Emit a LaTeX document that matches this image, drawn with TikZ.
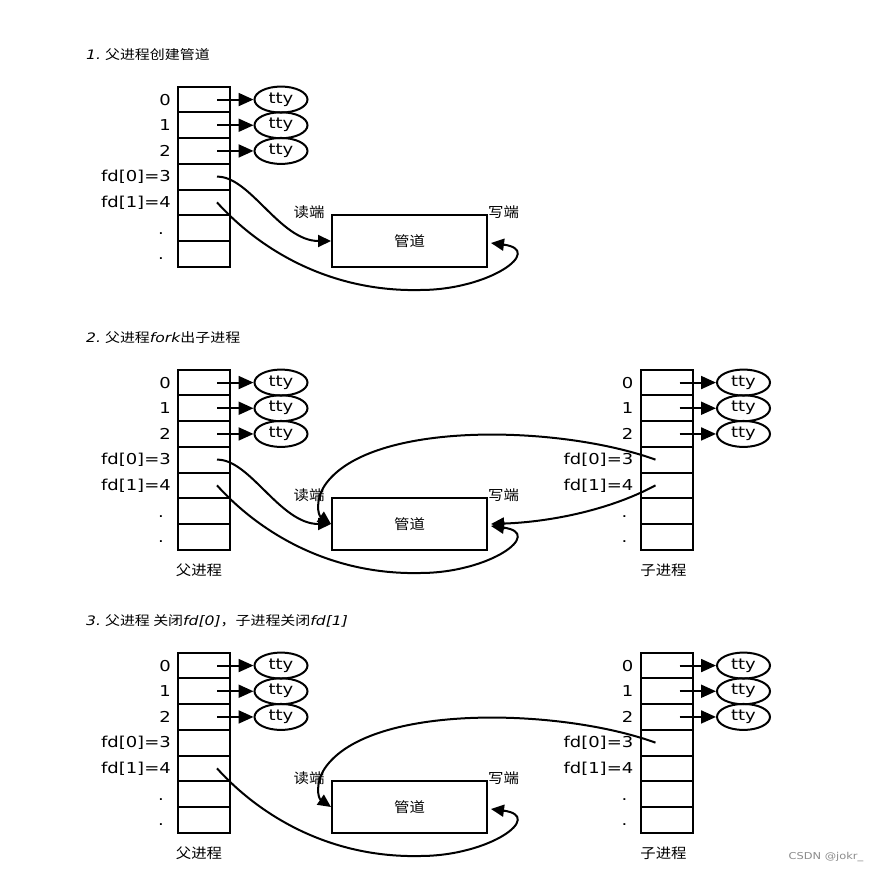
\documentclass[tikz,border=0pt]{standalone}
\usepackage{fontspec}
\setmainfont{DejaVu Sans}[FakeStretch=1.2]
\newfontfamily\cjk{Noto Sans CJK SC}[FakeStretch=1.1]
\newfontfamily\cjkt{Noto Sans CJK SC}[FakeStretch=1.15]
\usetikzlibrary{shapes.geometric,arrows.meta}
\tikzset{
  fdrow/.style={draw, line width=2pt, minimum width=52pt, minimum height=25.7pt, inner sep=0pt},
  fdlab/.style={font=\fontsize{15}{18}\selectfont, inner sep=0pt, anchor=east},
  ttyell/.style={ellipse, draw, line width=2pt, minimum width=53pt, minimum height=26pt, inner sep=0pt, font=\fontsize{15}{18}\selectfont},
  ptr/.style={line width=2pt, -{Triangle[length=15pt,width=13pt]}},
  conn/.style={line width=2pt, -{Triangle[length=13pt,width=12pt]}},
  pipebox/.style={draw, line width=2pt, minimum width=155pt, minimum height=51.7pt, inner sep=0pt, font=\cjk\fontsize{14}{16}\selectfont},
  endlab/.style={font=\cjk\fontsize{14}{16}\selectfont, inner sep=0pt},
  ttl/.style={font=\fontsize{13}{16}\selectfont, inner sep=0pt, anchor=west},
  wm/.style={font=\fontsize{9.5}{11}\selectfont, text=black!45, inner sep=0pt}
}
\newcommand\fdtab[3]{% #1 prefix, #2 x centre of table, #3 dot offset
  \foreach \i in {0,...,6} {\node[fdrow] (#1r\i) at (#2, 99.55+25.7*\i) {};}
  \node[fdlab] (#1l0) at ([xshift=-6pt]#1r0.west) {0};
  \node[fdlab] (#1l1) at ([xshift=-6pt]#1r1.west) {1};
  \node[fdlab] (#1l2) at ([xshift=-6pt]#1r2.west) {2};
  \node[fdlab] (#1l3) at ([xshift=-6pt]#1r3.west) {fd[0]=3};
  \node[fdlab] (#1l4) at ([xshift=-6pt]#1r4.west) {fd[1]=4};
  \node[fdlab, anchor=base] (#1l5) at ([xshift=#3,yshift=-6pt]#1r5.west) {.};
  \node[fdlab, anchor=base] (#1l6) at ([xshift=#3,yshift=-6pt]#1r6.west) {.};
  \foreach \i in {0,1,2} {
    \node[ttyell] (#1t\i) at (#2+77, 99.55+25.7*\i) {tty};
    \draw[ptr] ([xshift=13pt]#1r\i.center) -- (#1t\i.west);
  }
}
\begin{document}
\begin{tikzpicture}[x=1pt,y=-1pt]
\fill[white] (0,0) rectangle (876,870);
\useasboundingbox (0,0) rectangle (876,870);

% ---------- panel 1
\begin{scope}
  \node[ttl] (T1) at (86,55) {{\itshape 1.}\hspace{4pt}{\cjkt 父进程创建管道}};
  \fdtab{A}{204}{-16pt}
  \node[pipebox] (Ap) at (409.5,241) {管道};
  \node[endlab] (Ard) at (309,212) {读端};
  \node[endlab] (Awr) at (503.5,212) {写端};
  \draw[conn] ([xshift=13pt]Ar3.center) .. controls (250,176) and (280,241) .. (Ap.west);
  \draw[conn] ([xshift=13pt]Ar4.center) .. controls (260,250) and (330,292) .. (420,290)
              .. controls (490,290) and (545,250) .. ([xshift=3pt,yshift=-2pt]Ap.east);
\end{scope}

% ---------- panel 2
\begin{scope}[yshift=-283pt]
  \node[ttl] (T2) at (86,55) {{\itshape 2.}\hspace{4pt}{\cjkt 父进程}{\itshape fork}{\cjkt 出子进程}};
  \fdtab{B}{204}{-16pt}
  \fdtab{C}{666.5}{-15pt}
  \node[pipebox] (Bp) at (409.5,241) {管道};
  \node[endlab] (Brd) at (309,212) {读端};
  \node[endlab] (Bwr) at (503.5,212) {写端};
  \node[endlab] (Bpl) at (199,287) {父进程};
  \node[endlab] (Cpl) at (663.5,287) {子进程};
  \draw[conn] ([xshift=13pt]Br3.center) .. controls (250,176) and (280,241) .. (Bp.west);
  \draw[conn] ([xshift=13pt]Br4.center) .. controls (260,250) and (330,292) .. (420,290)
              .. controls (490,290) and (545,250) .. ([xshift=3pt,yshift=-2pt]Bp.east);
  \draw[conn] ([xshift=-11pt]Cr3.center) .. controls (560,142) and (370,137) .. (325,202)
              .. controls (315,217) and (318,232) .. (Bp.west);
  \draw[conn] ([xshift=-11pt]Cr4.center) .. controls (610,227) and (550,239) .. ([xshift=3pt]Bp.east);
\end{scope}

% ---------- panel 3
\begin{scope}[yshift=-566pt]
  \node[ttl] (T3) at (86,55) {{\itshape 3.}\hspace{4pt}{\cjkt 父进程 关闭}{\itshape fd[0]}{\cjkt ，子进程关闭}{\itshape fd[1]}};
  \fdtab{D}{204}{-16pt}
  \fdtab{E}{666.5}{-15pt}
  \node[pipebox] (Dp) at (409.5,241) {管道};
  \node[endlab] (Drd) at (309,212) {读端};
  \node[endlab] (Dwr) at (503.5,212) {写端};
  \node[endlab] (Dpl) at (199,287) {父进程};
  \node[endlab] (Epl) at (663.5,287) {子进程};
  \draw[conn] ([xshift=13pt]Dr4.center) .. controls (260,250) and (330,292) .. (420,290)
              .. controls (490,290) and (545,250) .. ([xshift=3pt,yshift=-2pt]Dp.east);
  \draw[conn] ([xshift=-11pt]Er3.center) .. controls (560,142) and (370,137) .. (325,202)
              .. controls (315,217) and (318,232) .. (Dp.west);
\end{scope}

\node[wm] (W) at (826,857) {CSDN @jokr\_};
\end{tikzpicture}
\end{document}
